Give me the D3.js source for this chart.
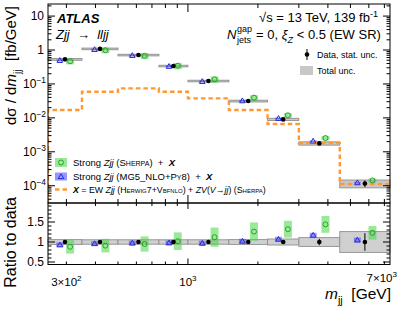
<!DOCTYPE html>
<html lang="en">
<head>
<meta charset="UTF-8">
<script src="https://cdn.jsdelivr.net/npm/d3@7"></script>
<title>EW Zjj mjj</title>
<style>
  body { margin: 0; background: #fff; }
  text { font-family: "Liberation Sans", Arial, Helvetica, sans-serif; white-space: pre; }
</style>
</head>
<body>
<svg id="chart" width="399" height="309"></svg>
<script>
// bin edges in mjj [GeV]
const binEdges = [250, 350, 500, 750, 1000, 1500, 2200, 3000, 4500, 7400];
// measured cross section [fb/GeV]
const dataXsec = [0.53, 1.08, 0.71, 0.337, 0.122, 0.0313, 0.00903, 0.00177, 0.000117];
const dataStat = [0.03, 0.02, 0.02, 0.03, 0.03, 0.04, 0.05, 0.08, 0.22];
const totalUnc = [0.06, 0.055, 0.055, 0.055, 0.055, 0.06, 0.075, 0.11, 0.26];
// predictions as ratio to data
const sherpaRatio = [0.88, 0.91, 0.95, 1.02, 1.12, 1.26, 1.32, 1.44, 1.23];
const sherpaUnc = [0.17, 0.17, 0.19, 0.22, 0.24, 0.23, 0.21, 0.21, 0.17];
const mgRatio = [0.93, 0.96, 0.975, 0.98, 0.97, 1.02, 1.07, 1.17, 1.05];
const mgUnc = [0.06, 0.06, 0.06, 0.06, 0.06, 0.06, 0.06, 0.06, 0.06];
// EW Zjj (Herwig7+VBFNLO) + ZV
const ewXsec = [0.017, 0.059, 0.074, 0.059, 0.0376, 0.017, 0.0066, 0.0018, 0.000112];

const yTickLabels = [[10, "10", ""], [1, "1", ""], [0.1, "10", "−1"], [0.01, "10", "−2"], [0.001, "10", "−3"], [0.0001, "10", "−4"]];
const ratioTicks = [0.5, 1, 1.5];
const xTickLabels = [[300, "3×10", "2"], [1000, "10", "3"], [7000, "7×10", "3"]];

const svg = d3.select("#chart");
const L = 48, R = 390, T = 4, MID = 203, B = 264.5;

const x = d3.scaleLog().domain([250, 7400]).range([L, R]);
const y = d3.scaleLog().domain([3.1e-5, 22.7]).range([MID, T]);
const yr = d3.scaleLinear().domain([0.4375, 1.975]).range([B, MID]);

const green = "#2e9e2e", greenFill = "rgba(70,215,70,0.55)";
const blue = "#2a2ad8", blueFill = "rgba(80,80,255,0.6)";
const orange = "#ff9933";

svg.append("defs").append("clipPath").attr("id", "clipTop")
  .append("rect").attr("x", L).attr("y", T).attr("width", R - L).attr("height", MID - T);

// rich text helper: segments with italic/bold/sub/sup/small caps
function rich(parent, px, py, segs, size, anchor) {
  const t = parent.append("text").attr("x", px).attr("y", py)
    .attr("font-size", size).attr("text-anchor", anchor || "start");
  let shift = 0;
  segs.forEach(s => {
    const target = s.sup ? -0.42 * size : s.sub ? 0.3 * size : 0;
    const sp = t.append("tspan").text(s.t).attr("dy", target - shift);
    shift = target;
    if (s.sup || s.sub) sp.attr("font-size", size * 0.7);
    if (s.it) sp.attr("font-style", "italic");
    if (s.b) sp.attr("font-weight", "bold");
    if (s.sc) sp.attr("font-variant", "small-caps");
  });
  return t;
}

const bins = dataXsec.map((d, i) => {
  const lo = binEdges[i], hi = binEdges[i + 1];
  const xc = x(Math.sqrt(lo * hi));
  const off = 0.15 * (x(hi) - x(lo));
  return {i, lo, hi, d, xc, off};
});

// ---------- upper panel ----------
const upper = svg.append("g");

upper.selectAll("rect.tot").data(bins).join("rect").attr("class", "tot")
  .attr("x", b => x(b.lo)).attr("width", b => x(b.hi) - x(b.lo))
  .attr("y", b => y(b.d * (1 + totalUnc[b.i])))
  .attr("height", b => y(b.d * (1 - totalUnc[b.i])) - y(b.d * (1 + totalUnc[b.i])))
  .attr("fill", "#c8c8c8").attr("stroke", "#8f8f8f").attr("stroke-width", 0.9);

// EW step line
const ewPts = [[x(binEdges[0]), MID]];
ewXsec.forEach((v, i) => {
  ewPts.push([x(binEdges[i]), y(v)]);
  ewPts.push([x(binEdges[i + 1]), y(v)]);
});
upper.append("path").attr("d", d3.line()(ewPts)).attr("clip-path", "url(#clipTop)")
  .attr("fill", "none").attr("stroke", orange).attr("stroke-width", 2.4)
  .attr("stroke-dasharray", "4.5,3");

function drawPreds(g, ys, val) {
  // blue MG5 boxes + triangles
  g.selectAll("rect.mg").data(bins).join("rect").attr("class", "mg")
    .attr("x", b => b.xc - b.off - 3.5).attr("width", 7)
    .attr("y", b => ys(val(b, mgRatio[b.i] + mgUnc[b.i])))
    .attr("height", b => ys(val(b, mgRatio[b.i] - mgUnc[b.i])) - ys(val(b, mgRatio[b.i] + mgUnc[b.i])))
    .attr("fill", blueFill);
  g.selectAll("path.mgm").data(bins).join("path").attr("class", "mgm")
    .attr("d", b => {
      const cx = b.xc - b.off, cy = ys(val(b, mgRatio[b.i]));
      return `M${cx},${cy - 2.8}L${cx + 2.8},${cy + 2}L${cx - 2.8},${cy + 2}Z`;
    })
    .attr("fill", "none").attr("stroke", blue).attr("stroke-width", 1);
  // green Sherpa boxes + circles
  g.selectAll("rect.sh").data(bins).join("rect").attr("class", "sh")
    .attr("x", b => b.xc + b.off - 4).attr("width", 8)
    .attr("y", b => ys(val(b, sherpaRatio[b.i] + sherpaUnc[b.i])))
    .attr("height", b => ys(val(b, sherpaRatio[b.i] - sherpaUnc[b.i])) - ys(val(b, sherpaRatio[b.i] + sherpaUnc[b.i])))
    .attr("fill", greenFill);
  g.selectAll("circle.shm").data(bins).join("circle").attr("class", "shm")
    .attr("cx", b => b.xc + b.off).attr("cy", b => ys(val(b, sherpaRatio[b.i])))
    .attr("r", 2.5).attr("fill", "none").attr("stroke", green).attr("stroke-width", 1);
}
function drawData(g, ys, val, stat) {
  g.selectAll("line.err").data(bins).join("line").attr("class", "err")
    .attr("x1", b => b.xc).attr("x2", b => b.xc)
    .attr("y1", b => ys(val(b, 1 + stat[b.i]))).attr("y2", b => ys(val(b, 1 - stat[b.i])))
    .attr("stroke", "#000").attr("stroke-width", 1);
  g.selectAll("circle.dat").data(bins).join("circle").attr("class", "dat")
    .attr("cx", b => b.xc).attr("cy", b => ys(val(b, 1))).attr("r", 2.3).attr("fill", "#000");
}
drawPreds(upper, y, (b, r) => b.d * r);
drawData(upper, y, (b, r) => b.d * r, dataStat);

// ---------- ratio panel ----------
const lower = svg.append("g");
lower.selectAll("rect.tot").data(bins).join("rect").attr("class", "tot")
  .attr("x", b => x(b.lo)).attr("width", b => x(b.hi) - x(b.lo))
  .attr("y", b => yr(1 + totalUnc[b.i]))
  .attr("height", b => yr(1 - totalUnc[b.i]) - yr(1 + totalUnc[b.i]))
  .attr("fill", "#d0d0d0").attr("stroke", "#8f8f8f").attr("stroke-width", 0.9);
drawPreds(lower, yr, (b, r) => r);
drawData(lower, yr, (b, r) => r, dataStat);

// ---------- frames and ticks ----------
function frame(y0, y1) {
  svg.append("rect").attr("x", L).attr("y", y0).attr("width", R - L).attr("height", y1 - y0)
    .attr("fill", "none").attr("stroke", "#000").attr("stroke-width", 1);
}
frame(T, MID);
frame(MID, B);

const ticks = svg.append("g").attr("stroke", "#000").attr("stroke-width", 1);
function tick(x1, y1, x2, y2) { ticks.append("line").attr("x1", x1).attr("y1", y1).attr("x2", x2).attr("y2", y2); }
const isPow = v => Math.abs(Math.log10(v) - Math.round(Math.log10(v))) < 1e-6;

y.ticks().forEach(v => {
  const len = isPow(v) ? 7 : 3.5, yy = y(v);
  tick(L, yy, L + len, yy);
  tick(R, yy, R - len, yy);
});
d3.range(0.5, 1.95, 0.1).forEach(v => {
  const major = Math.abs(v * 2 - Math.round(v * 2)) < 1e-6;
  const len = major ? 7 : 3.5, yy = yr(v);
  tick(L, yy, L + len, yy);
  tick(R, yy, R - len, yy);
});
x.ticks().forEach(v => {
  const xx = x(v), maj = isPow(v);
  tick(xx, MID, xx, MID - (maj ? 8 : 4));
  tick(xx, T, xx, T + (maj ? 8 : 4));
  tick(xx, B, xx, B - (maj ? 6 : 3));
  tick(xx, MID, xx, MID + (maj ? 6 : 3));
});

// tick labels
const labels = svg.append("g");
yTickLabels.forEach(([v, base, sup]) => {
  const segs = [{t: base}];
  if (sup) segs.push({t: sup, sup: true});
  rich(labels, sup ? 46 : 44, y(v) + 4.3, segs, 12, "end");
});
ratioTicks.forEach(v => {
  labels.append("text").attr("x", 44).attr("y", yr(v) + 4.3).attr("text-anchor", "end")
    .attr("font-size", 12).text(v);
});
xTickLabels.forEach(([v, base, sup]) => {
  if (v === 7000) rich(labels, 397, 282, [{t: base}, {t: sup, sup: true}], 11.5, "end");
  else rich(labels, x(v), 286, [{t: base}, {t: sup, sup: true}], 11.5, "middle");
});

// axis titles
rich(svg.append("g").attr("transform", "translate(16,6) rotate(-90)"), 0, 0,
  [{t: "dσ / d"}, {t: "m", it: true}, {t: "jj", sub: true}, {t: "  [fb/GeV]"}], 15, "end");
svg.append("text").attr("transform", "translate(16,197) rotate(-90)").attr("text-anchor", "end")
  .attr("font-size", 16).text("Ratio to data");
rich(svg, 391, 299, [{t: "m", it: true}, {t: "jj", sub: true}, {t: "  [GeV]"}], 15.5, "end");

// ---------- annotations ----------
svg.append("text").attr("x", 57).attr("y", 23).attr("font-size", 13)
  .attr("font-weight", "bold").attr("font-style", "italic").text("ATLAS");
rich(svg, 56, 39, [{t: "Zjj", it: true}, {t: "  →  "}, {t: "lljj", it: true}], 13);

rich(svg, 378, 22, [{t: "√"}, {t: "s"}, {t: " = 13 TeV, 139 fb"}, {t: "-1", sup: true}], 13, "end");

// N^gap_jets line, stacked super/subscript
const l2 = svg.append("g");
const n0 = 227, base2 = 39;
const nT = l2.append("text").attr("x", n0).attr("y", base2).attr("font-size", 13)
  .attr("font-style", "italic").text("N");
const nW = nT.node().getComputedTextLength();
const gT = l2.append("text").attr("x", n0 + nW + 0.5).attr("y", base2 - 7).attr("font-size", 9).text("gap");
const jT = l2.append("text").attr("x", n0 + nW + 0.5).attr("y", base2 + 3.5).attr("font-size", 9).text("jets");
const sw = Math.max(gT.node().getComputedTextLength(), jT.node().getComputedTextLength());
rich(l2, n0 + nW + sw + 1, base2,
  [{t: " = 0, "}, {t: "ξ", it: true}, {t: "Z", it: true, sub: true}, {t: " < 0.5 (EW SR)"}], 13);

// right legend
const leg = svg.append("g");
leg.append("line").attr("x1", 307).attr("x2", 307).attr("y1", 49).attr("y2", 60).attr("stroke", "#000");
leg.append("circle").attr("cx", 307).attr("cy", 54.5).attr("r", 2.3).attr("fill", "#000");
leg.append("text").attr("x", 317).attr("y", 58).attr("font-size", 9).text("Data, stat. unc.");
leg.append("rect").attr("x", 300).attr("y", 66).attr("width", 13).attr("height", 9).attr("fill", "#c8c8c8");
leg.append("text").attr("x", 317).attr("y", 74).attr("font-size", 9).text("Total unc.");

// bottom-left legend
leg.append("rect").attr("x", 55).attr("y", 158).attr("width", 12).attr("height", 9).attr("fill", greenFill);
leg.append("circle").attr("cx", 61).attr("cy", 162.5).attr("r", 2.5).attr("fill", "none").attr("stroke", green);
rich(leg, 73, 166, [{t: "Strong "}, {t: "Zjj", it: true}, {t: " ("}, {t: "Sherpa", sc: true}, {t: ")  +  "}, {t: "X", it: true, b: true}], 9.5);

leg.append("rect").attr("x", 55).attr("y", 172.5).attr("width", 12).attr("height", 8).attr("fill", blueFill);
leg.append("path").attr("d", "M61,173.8L63.8,178.6L58.2,178.6Z").attr("fill", "none").attr("stroke", blue);
rich(leg, 73, 180, [{t: "Strong "}, {t: "Zjj", it: true}, {t: " (MG5_NLO+P"}, {t: "y", sc: true}, {t: "8)  +  "}, {t: "X", it: true, b: true}], 9.5);

leg.append("line").attr("x1", 55).attr("x2", 68).attr("y1", 189.5).attr("y2", 189.5)
  .attr("stroke", orange).attr("stroke-width", 2.4).attr("stroke-dasharray", "4.5,3");
rich(leg, 73, 193, [{t: "X", it: true, b: true}, {t: " = EW "}, {t: "Zjj", it: true}, {t: " ("}, {t: "Herwig", sc: true}, {t: "7+V"}, {t: "bfnlo", sc: true},
  {t: ") + "}, {t: "ZV", it: true}, {t: "("}, {t: "V", it: true}, {t: "→"}, {t: "jj", it: true}, {t: ") ("}, {t: "Sherpa", sc: true}, {t: ")"}], 8.8);
</script>
</body>
</html>
